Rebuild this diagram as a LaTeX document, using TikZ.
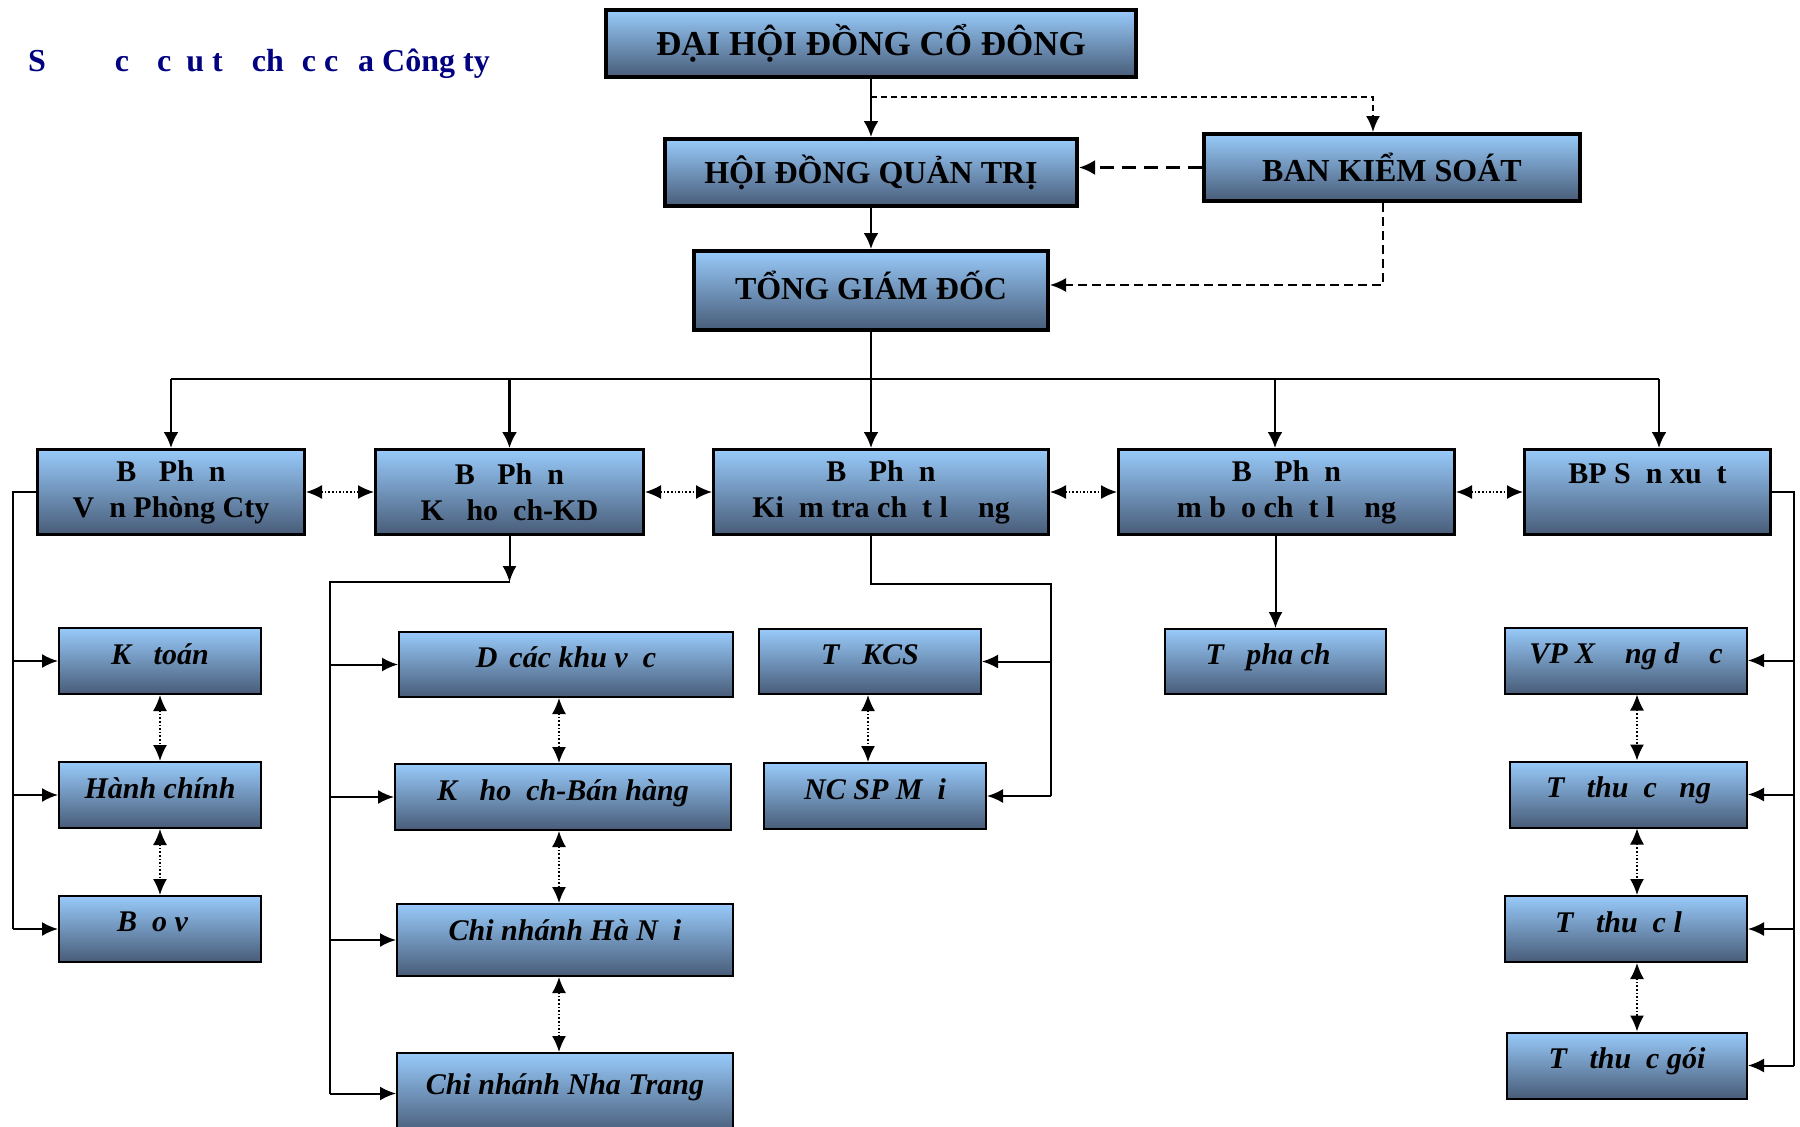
\documentclass[tikz,border=0pt]{standalone}
\usepackage{fontspec}
\setmainfont{Liberation Serif}
\usepackage{tikz}
\usetikzlibrary{calc,arrows.meta,positioning}
\definecolor{boxtop}{RGB}{152,202,250}
\definecolor{boxbot}{RGB}{72,92,120}
\definecolor{navy}{RGB}{0,0,128}
\newcommand{\miss}{\hspace{0.5em}}

\begin{document}
\begin{tikzpicture}[x=1pt,y=-1pt]

\tikzset{topbox/.style={draw=black,line width=4pt,top color=boxtop,bottom color=boxbot,inner sep=0pt,align=center,font=\fontsize{32}{38}\selectfont\bfseries},
deptbox/.style={draw=black,line width=3pt,top color=boxtop,bottom color=boxbot,inner sep=0pt,align=center,minimum height=85pt,font=\fontsize{30}{36}\selectfont\bfseries},
unitbox/.style={draw=black,line width=2pt,top color=boxtop,bottom color=boxbot,inner sep=0pt,align=center,minimum height=66pt,text depth=14pt,font=\fontsize{30}{34}\selectfont\bfseries\itshape},
conn/.style={line width=2.5pt},
arr/.style={conn,-{Latex[length=16pt,width=15pt]}},
sline/.style={line width=2pt},
sarr/.style={sline,-{Latex[length=16pt,width=14pt]}},
dotarr/.style={line width=1.6pt,dotted,{Latex[length=16pt,width=14pt]}-{Latex[length=16pt,width=14pt]}},
heading/.style={anchor=west,inner sep=0pt,text=navy,font=\fontsize{32}{38}\selectfont\bfseries}}

\useasboundingbox (0,0) rectangle (1800,1127);

% Title
\node[heading] (ttl) at (28,64) {S\hspace{69pt}c\hspace{28pt}c\hspace{15pt}u t\hspace{29pt}ch\hspace{18pt}c c\hspace{20pt}a Công ty};

% top boxes
\node[topbox,minimum width=530pt,minimum height=67pt,font=\fontsize{35}{40}\selectfont\bfseries] (dhdcd) at (871,43.5) {ĐẠI HỘI ĐỒNG CỔ ĐÔNG};
\node[topbox,minimum width=412pt,minimum height=67pt] (hdqt) at (871,172.5) {HỘI ĐỒNG QUẢN TRỊ};
\node[topbox,minimum width=376pt,minimum height=67pt] (bks) at (1392,167.5) {BAN KIỂM SOÁT};
\node[topbox,minimum width=354pt,minimum height=79pt] (tgd) at (871,290.5) {\raisebox{11pt}{TỔNG GIÁM ĐỐC}};

% departments
\node[deptbox,minimum width=267pt] (b1) at (171,492) {B\miss{} Ph\miss n\\V\miss n Phòng Cty};
\node[deptbox,minimum width=268pt] (b2) at (509.5,492) {B\miss{} Ph\miss n\\K\miss{} ho\miss ch-KD};
\node[deptbox,minimum width=335pt] (b3) at (881,492) {B\miss{} Ph\miss n\\Ki\miss m tra ch\miss t l\miss\miss ng};
\node[deptbox,minimum width=336pt] (b4) at (1286.5,492) {B\miss{} Ph\miss n\\m b\miss o ch\miss t l\miss\miss ng};
\node[deptbox,minimum width=246pt] (b5) at (1647.5,492) {BP S\miss n xu\miss t\\\mbox{}};

% units
\node[unitbox,minimum width=202pt] (kt) at (160,661) {K\miss{} toán};
\node[unitbox,minimum width=202pt] (hc) at (160,795) {Hành chính};
\node[unitbox,minimum width=202pt] (bv) at (160,929) {B\miss o v\miss};
\node[unitbox,minimum width=334pt,minimum height=65pt] (dkv) at (566,664.5) {D\hspace{0.15em} các khu v\miss c};
\node[unitbox,minimum width=336pt] (kbh) at (563,797) {K\miss{} ho\miss ch-Bán hàng};
\node[unitbox,minimum width=336pt,minimum height=72pt] (hn) at (565,940) {\raisebox{5pt}{Chi nhánh Hà N\miss i}};
\node[unitbox,minimum width=336pt,minimum height=81pt] (nt) at (565,1093.5) {\raisebox{5pt}{Chi nhánh Nha Trang}};
\node[unitbox,minimum width=222pt,minimum height=65pt] (kcs) at (870,661.5) {T\miss{} KCS};
\node[unitbox,minimum width=222pt] (ncsp) at (875,796) {NC SP M\miss i};
\node[unitbox,minimum width=221pt,minimum height=65pt] (tpc) at (1275.5,661.5) {T\miss{} pha ch\miss};
\node[unitbox,minimum width=242pt] (vp) at (1626,660.5) {VP X\miss\miss ng d\miss\miss c};
\node[unitbox,minimum width=237pt] (tong) at (1628.5,794.5) {T\miss{} thu\miss c \miss ng};
\node[unitbox,minimum width=242pt] (tl) at (1626,929) {T\miss{} thu\miss c l\miss};
\node[unitbox,minimum width=240pt] (tgoi) at (1627,1065.5) {T\miss{} thu\miss c gói};

% top edges
\coordinate (dsplit) at (871,97);
\coordinate (dcorner) at (1373,97);
\coordinate (bcorner) at (1383,285);
\draw[arr] (dhdcd.south) -- (hdqt.north);
\draw[line width=2pt,dash pattern=on 6pt off 4pt,-{Latex[length=16pt,width=14pt]}] (dsplit) -- (dcorner) -- (dcorner |- bks.north);
\draw[conn,dash pattern=on 14pt off 8pt,-{Latex[length=16pt,width=15pt]}] (bks.west) -- (hdqt.east |- bks.west);
\draw[line width=2pt,dash pattern=on 9pt off 5pt,-{Latex[length=16pt,width=14pt]}] (bcorner |- bks.south) -- (bcorner) -- (tgd.east |- bcorner);
\draw[arr] (hdqt.south) -- (tgd.north);

% bus to departments
\foreach \b/\x in {b1/171,b2/509.5,b3/871,b4/1275,b5/1659}{
  \coordinate (top\b) at (\x,379);
  \draw[arr] (top\b) -- (top\b |- \b.north);
}
\draw[conn] (tgd.south) -- (topb3);
\draw[conn] (topb1) -- (topb5);
\foreach \a/\b in {b1/b2,b2/b3,b3/b4,b4/b5} \draw[dotarr] (\a.east) -- (\b.west);

% Van phong
\coordinate (lft) at (13,492);
\draw[sline] (b1.west) -- (lft) -- (lft |- bv.west);
\foreach \c in {kt,hc,bv} \draw[sarr] (lft |- \c.west) -- (\c.west);
\draw[dotarr] (kt.south) -- (hc.north);
\draw[dotarr] (hc.south) -- (bv.north);

% Ke hoach-KD
\coordinate (k2) at (509.5,582);
\coordinate (k2l) at (330,582);
\draw[sarr] (b2.south) -- (k2);
\draw[sline] (k2) -- (k2l) -- (k2l |- nt.west);
\foreach \c in {dkv,kbh,hn,nt} \draw[sarr] (k2l |- \c.west) -- (\c.west);
\coordinate (d2) at (559,0);
\draw[dotarr] (d2 |- dkv.south) -- (d2 |- kbh.north);
\draw[dotarr] (d2 |- kbh.south) -- (d2 |- hn.north);
\draw[dotarr] (d2 |- hn.south) -- (d2 |- nt.north);

% Kiem tra
\coordinate (k3) at (871,584);
\coordinate (k3r) at (1051,584);
\draw[sline] (topb3 |- b3.south) -- (k3) -- (k3r) -- (k3r |- ncsp.east);
\foreach \c in {kcs,ncsp} \draw[sarr] (k3r |- \c.east) -- (\c.east);
\coordinate (d3) at (868,0);
\draw[dotarr] (d3 |- kcs.south) -- (d3 |- ncsp.north);

% Dam bao
\draw[sarr] (tpc.north |- b4.south) -- (tpc.north);

% San xuat
\coordinate (rgt) at (1794,492);
\draw[sline] (b5.east) -- (rgt) -- (rgt |- tgoi.east);
\foreach \c in {vp,tong,tl,tgoi} \draw[sarr] (rgt |- \c.east) -- (\c.east);
\coordinate (d5) at (1637,0);
\draw[dotarr] (d5 |- vp.south) -- (d5 |- tong.north);
\draw[dotarr] (d5 |- tong.south) -- (d5 |- tl.north);
\draw[dotarr] (d5 |- tl.south) -- (d5 |- tgoi.north);

\end{tikzpicture}
\end{document}
